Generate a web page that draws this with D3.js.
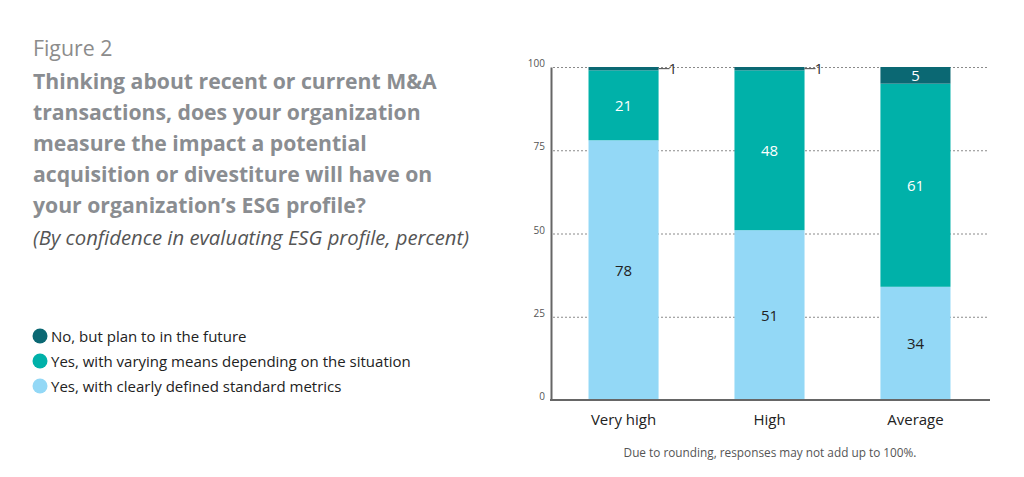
<!DOCTYPE html>
<html>
<head>
<meta charset="utf-8">
<script src="https://cdn.jsdelivr.net/npm/d3@7"></script>
<style>
  html, body { margin: 0; padding: 0; background: #fff; }
  svg { display: block; font-family: "Open Sans", "Noto Sans", sans-serif; }
</style>
</head>
<body>
<svg id="chart" width="1024" height="477"></svg>
<script>
// ---- data ----
const categories = ["Very high", "High", "Average"];
const seriesNames = [
  "Yes, with clearly defined standard metrics",
  "Yes, with varying means depending on the situation",
  "No, but plan to in the future"
];
const clearlyDefined = [78, 51, 34];
const varyingMeans = [21, 48, 61];
const planFuture = [1, 1, 5];
const yTicks = [0, 25, 50, 75, 100];
const titleLines = [
  "Thinking about recent or current M&A",
  "transactions, does your organization",
  "measure the impact a potential",
  "acquisition or divestiture will have on",
  "your organization\u2019s ESG profile?"
];
const figureLabel = "Figure 2";
const subtitle = "(By confidence in evaluating ESG profile, percent)";
const footnote = "Due to rounding, responses may not add up to 100%.";

const colors = ["#93d8f6", "#00b1a9", "#0b6873"];
const labelColors = ["#222222", "#ffffff", "#ffffff"];

const svg = d3.select("#chart");

// ---- title block ----
svg.append("text").attr("x", 33).attr("y", 56)
  .attr("font-size", 21.3).attr("fill", "#8c8c8c").text(figureLabel);
titleLines.forEach((t, i) => {
  svg.append("text").attr("x", 33).attr("y", 89 + i * 31)
    .attr("font-size", 21.2).attr("font-weight", 700).attr("fill", "#8a8d91").text(t);
});
svg.append("text").attr("x", 33).attr("y", 245)
  .attr("font-size", 20.3).attr("font-style", "italic").attr("fill", "#555555").text(subtitle);

// ---- legend ----
const legendOrder = [2, 1, 0];
legendOrder.forEach((si, i) => {
  const y = 336 + i * 25;
  svg.append("circle").attr("cx", 40).attr("cy", y).attr("r", 7.5).attr("fill", colors[si]);
  svg.append("text").attr("x", 51).attr("y", y + 5.5).attr("font-size", 15)
    .attr("fill", "#222").text(seriesNames[si]);
});

// ---- scales ----
const x = d3.scaleBand().domain(categories).range([551, 988])
  .paddingInner(0.52).paddingOuter(0.257);
const y = d3.scaleLinear().domain([0, 100]).range([400, 67]);

// gridlines
svg.append("g").selectAll("line").data(yTicks.filter(d => d > 0)).join("line")
  .attr("x1", 553).attr("x2", 988)
  .attr("y1", d => y(d) + 0.5).attr("y2", d => y(d) + 0.5)
  .attr("stroke", "#8a8a8a").attr("stroke-width", 1).attr("stroke-dasharray", "2,2");

// y axis via d3 axis
const yAxis = svg.append("g").attr("transform", "translate(551,0)")
  .call(d3.axisLeft(y).tickValues(yTicks).tickSize(0).tickPadding(6));
yAxis.select(".domain").attr("stroke", "#666").attr("stroke-width", 2);
yAxis.selectAll("text").attr("font-size", 10).attr("fill", "#555")
  .attr("font-family", "Open Sans").attr("dy", "-0.05em");

// stacked data
const rows = categories.map((c, i) => ({
  cat: c, s0: clearlyDefined[i], s1: varyingMeans[i], s2: planFuture[i]
}));
const stack = d3.stack().keys(["s0", "s1", "s2"])(rows);

const layers = svg.append("g").selectAll("g").data(stack).join("g")
  .attr("fill", (d, i) => colors[i]);
layers.selectAll("rect").data(d => d).join("rect")
  .attr("x", d => x(d.data.cat))
  .attr("width", x.bandwidth())
  .attr("y", d => y(d[1]))
  .attr("height", d => y(d[0]) - y(d[1]));

// labels
stack.forEach((layer, li) => {
  layer.forEach(d => {
    const v = d[1] - d[0];
    const cx = x(d.data.cat) + x.bandwidth() / 2;
    if (v >= 3) {
      svg.append("text").attr("x", cx).attr("y", (y(d[0]) + y(d[1])) / 2 + 5.5)
        .attr("text-anchor", "middle").attr("font-size", 15)
        .attr("fill", labelColors[li]).text(v);
    } else {
      const ly = (y(d[0]) + y(d[1])) / 2;
      const xr = x(d.data.cat) + x.bandwidth();
      svg.append("line").attr("x1", xr).attr("x2", xr + 11)
        .attr("y1", ly).attr("y2", ly).attr("stroke", "#444").attr("stroke-width", 1);
      svg.append("text").attr("x", xr + 10).attr("y", ly + 5.5)
        .attr("font-size", 15).attr("fill", "#333").text(v);
    }
  });
});

// x baseline
svg.append("line").attr("x1", 550).attr("x2", 990).attr("y1", 400).attr("y2", 400)
  .attr("stroke", "#666").attr("stroke-width", 2);

// category labels
const xAxis = svg.append("g").attr("transform", "translate(0,400)")
  .call(d3.axisBottom(x).tickSize(0).tickPadding(14));
xAxis.select(".domain").remove();
xAxis.selectAll("text").attr("font-size", 15).attr("fill", "#222")
  .attr("font-family", "Open Sans");

// footnote
svg.append("text").attr("x", 770).attr("y", 457).attr("text-anchor", "middle")
  .attr("font-size", 11.8).attr("fill", "#555").text(footnote);
</script>
</body>
</html>
